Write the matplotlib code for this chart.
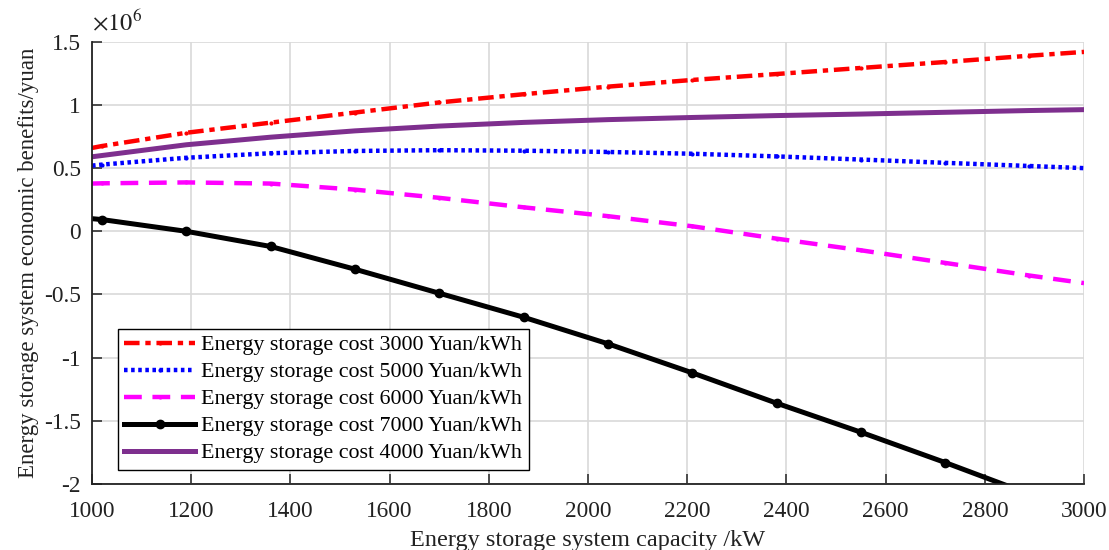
import numpy as np
import matplotlib
matplotlib.use("Agg")
import matplotlib.pyplot as plt

plt.rcParams['font.family'] = ['Liberation Serif', 'DejaVu Serif']
plt.rcParams['mathtext.fontset'] = 'stix'

# capacity (kW) and benefits (x10^6 yuan)
cap = [1000, 1020, 1190, 1360, 1530, 1700, 1870, 2040, 2210, 2380, 2550, 2720, 2890, 3000]
cost3000 = [0.66, 0.675, 0.78, 0.86, 0.94, 1.02, 1.085, 1.145, 1.198, 1.245, 1.293, 1.34, 1.39, 1.42]
cost5000 = [0.52, 0.528, 0.582, 0.618, 0.636, 0.642, 0.638, 0.628, 0.614, 0.593, 0.568, 0.542, 0.517, 0.50]
cost6000 = [0.378, 0.38, 0.387, 0.378, 0.33, 0.265, 0.19, 0.12, 0.04, -0.058, -0.15, -0.25, -0.35, -0.41]
cost7000 = [0.10, 0.093, 0.0, -0.12, -0.30, -0.49, -0.68, -0.89, -1.12, -1.36, -1.59, -1.83, -2.08, -2.24]
cost4000 = [0.59, 0.60, 0.685, 0.745, 0.795, 0.833, 0.862, 0.884, 0.901, 0.916, 0.928, 0.942, 0.956, 0.963]

labels = ['Energy storage cost 3000 Yuan/kWh', 'Energy storage cost 5000 Yuan/kWh',
          'Energy storage cost 6000 Yuan/kWh', 'Energy storage cost 7000 Yuan/kWh',
          'Energy storage cost 4000 Yuan/kWh']

xt = np.arange(1000, 3001, 200)
yt = [-2, -1.5, -1, -0.5, 0, 0.5, 1, 1.5]
ytl = ['-2', '-1.5', '-1', '-0.5', '0', '0.5', '1', '1.5']

fig = plt.figure(figsize=(11.09, 5.5), dpi=100)
ax = fig.add_axes([0.083, 0.12, 0.8945, 0.804])

mk = slice(1, 13)
ax.plot(cap, cost3000, color='#ff0000', ls=(0, (3.5, 1.3, 1.2, 1.3)), lw=3.2, marker='.', ms=4, markevery=mk, label=labels[0])
ax.plot(cap, cost5000, color='#0000ff', ls=(0, (0.8, 0.8)), lw=3.2, marker='.', ms=4, markevery=mk, label=labels[1])
ax.plot(cap, cost6000, color='#ff00ff', ls=(0, (4, 2.4)), lw=3.2, marker='.', ms=4, markevery=mk, label=labels[2])
ax.plot(cap, cost7000, color='black', ls='-', lw=3.6, marker='o', ms=6, markevery=mk, label=labels[3])
ax.plot(cap, cost4000, color='#7e2f8e', ls='-', lw=3.6, label=labels[4])

ax.set_xlim(1000, 3000)
ax.set_ylim(-2, 1.5)
ax.set_xticks(xt)
ax.set_xticklabels([str(v) for v in xt])
ax.set_yticks(yt)
ax.set_yticklabels(ytl)
ax.grid(True, color='#d9d9d9', lw=1.2)
ax.set_axisbelow(True)
for s in ['top', 'right']:
    ax.spines[s].set_visible(False)
for s in ['left', 'bottom']:
    ax.spines[s].set_linewidth(1.3)
    ax.spines[s].set_color('#222222')
ax.tick_params(direction='in', length=7, width=1.1, labelsize=16.8, colors='#222222')
ax.tick_params(axis='x', pad=12)
ax.tick_params(axis='y', pad=8)

ax.set_xlabel('Energy storage system capacity /kW', fontsize=17.5, color='#222222', labelpad=6)
ax.set_ylabel('Energy storage system economic benefits/yuan', fontsize=16.5, color='#222222', labelpad=4)
ax.text(0.0, 1.015, r'$\times10^{6}$', transform=ax.transAxes, fontsize=17.5, color='#222222', ha='left', va='bottom')

leg = ax.legend(loc='lower left', bbox_to_anchor=(0.026, 0.032), fontsize=15.8, frameon=True,
                fancybox=False, edgecolor='black', framealpha=1, handlelength=3.2,
                borderaxespad=0, borderpad=0.3, labelspacing=0.3, handletextpad=0.3)
leg.get_frame().set_linewidth(1.0)

fig.savefig('out.png', dpi=100)
